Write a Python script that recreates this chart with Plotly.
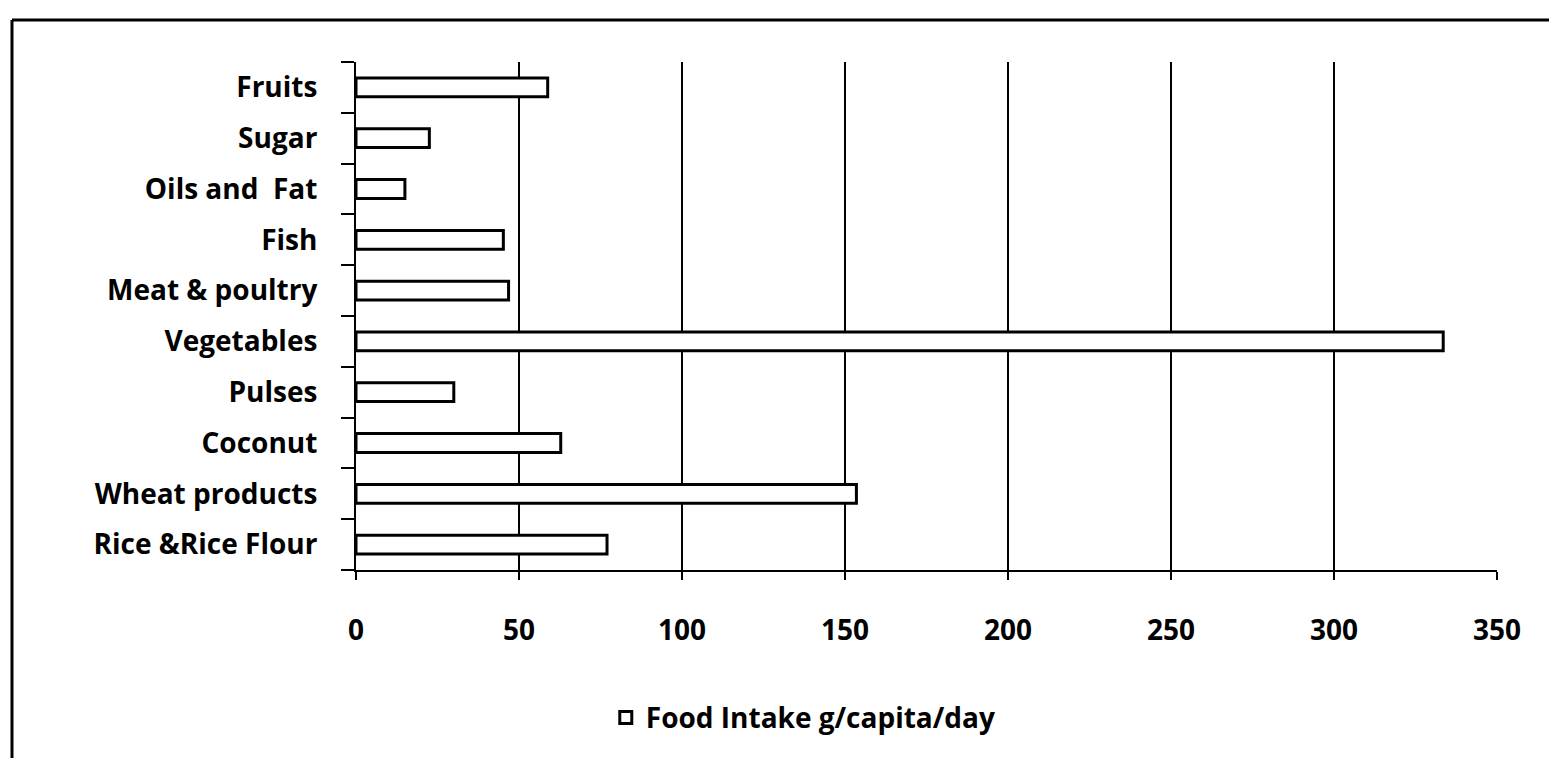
import plotly.graph_objects as go

categories = ["Rice &Rice Flour", "Wheat products", "Coconut", "Pulses", "Vegetables",
              "Meat & poultry", "Fish", "Oils and  Fat", "Sugar", "Fruits"]
intake = [77, 153.5, 62.8, 30, 333.5, 46.8, 45.2, 15, 22.5, 58.8]
x_ticks = [0, 50, 100, 150, 200, 250, 300, 350]
series_name = "Food Intake g/capita/day"

FONT = "Open Sans"
TF = dict(family=FONT, size=28, color="black", weight="bold")

fig = go.Figure()
fig.add_trace(go.Bar(
    y=categories, x=intake, orientation="h", name=series_name,
    width=0.37,
    marker=dict(color="white", line=dict(color="black", width=3)),
    showlegend=True,
))

fig.update_layout(
    width=1541, height=750,
    paper_bgcolor="white", plot_bgcolor="white",
    margin=dict(l=348, r=52, t=54, b=188),
    font=TF,
    showlegend=True,
    legend=dict(orientation="h", x=0.392, y=-0.291, xanchor="center", yanchor="middle",
                font=TF),
    xaxis=dict(range=[0, 350], tickvals=x_ticks, ticktext=[str(v) for v in x_ticks],
               showgrid=True, gridcolor="black", gridwidth=2,
               zeroline=False, showline=True, linecolor="black", linewidth=2,
               ticks="outside", ticklen=8, tickwidth=2, tickcolor="black",
               ticklabelstandoff=26, tickfont=TF),
    yaxis=dict(categoryorder="array", categoryarray=categories,
               showgrid=False, showline=True, linecolor="black", linewidth=2,
               ticks="outside", ticklen=13, tickwidth=2, tickcolor="black",
               tickson="boundaries", ticklabelstandoff=31, tickfont=TF),
    shapes=[
        dict(type="line", xref="paper", yref="paper", x0=-0.3015, x1=1.06, y0=1.0827, y1=1.0827,
             line=dict(color="black", width=3)),
        dict(type="line", xref="paper", yref="paper", x0=-0.3015, x1=-0.3015, y0=1.0827, y1=-0.39,
             line=dict(color="black", width=3)),
    ],
)

fig.write_html("out.html")
